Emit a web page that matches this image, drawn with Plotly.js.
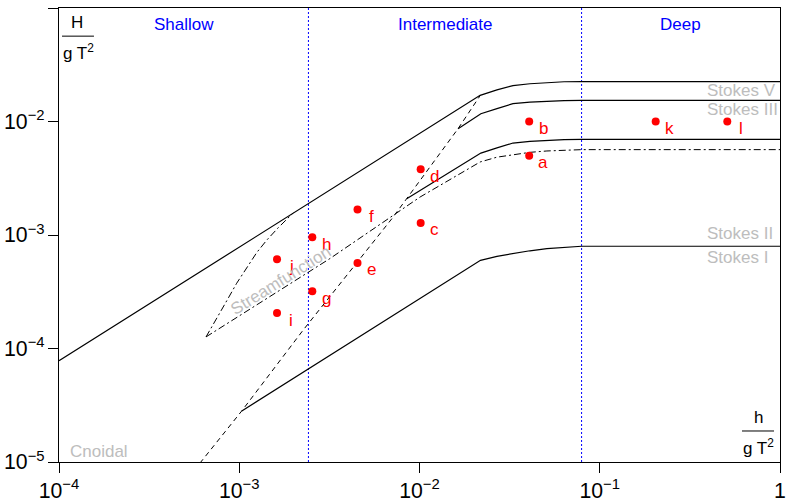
<!DOCTYPE html>
<html><head><meta charset="utf-8">
<script src="https://cdn.plot.ly/plotly-3.0.1.min.js"></script>
<style>html,body{margin:0;padding:0;background:#fff}#chart{width:795px;height:504px}</style>
</head><body><div id="chart"></div>
<script>
// Region limits (h/gT^2)
const regionBounds = [1e-4, 0.00242, 0.0793, 1];
const regionNames = ['Shallow', 'Intermediate', 'Deep'];

// Breaking limit
const breakX = [1e-4, 0.0217, 0.0269, 0.033, 0.041, 0.0509, 0.0634, 0.0793, 1];
const breakY = [7.8e-5, 0.0170, 0.0190, 0.0207, 0.0215, 0.0221, 0.0224, 0.0225, 0.0225];
// Stokes V / Stokes III boundary
const s53X = [0.01637, 0.0219, 0.0269, 0.033, 0.041, 0.0509, 0.0634, 0.0793, 1];
const s53Y = [0.00865, 0.0117, 0.0130, 0.01435, 0.01479, 0.01513, 0.0153, 0.01535, 0.01535];
// Stokes III / Stokes II boundary
const s32X = [0.00849, 0.0219, 0.0269, 0.033, 0.041, 0.0509, 0.0634, 0.0793, 1];
const s32Y = [0.00209, 0.00527, 0.00586, 0.00646, 0.00668, 0.00683, 0.00692, 0.00695, 0.00695];
// Stokes II / Stokes I boundary
const s21X = [0.001033, 0.0218, 0.0269, 0.033, 0.041, 0.0509, 0.0634, 0.0793, 1];
const s21Y = [2.82e-5, 5.98e-4, 6.49e-4, 6.9e-4, 7.26e-4, 7.59e-4, 7.82e-4, 7.96e-4, 7.96e-4];
// Ursell (cnoidal) limit
const ursellX = [6.05e-4, 1.033e-3, 2.26e-3, 3.62e-3, 7.02e-3, 8.49e-3, 0.01637, 0.0217];
const ursellY = [9.77e-6, 2.82e-5, 1.45e-4, 3.73e-4, 1.39e-3, 2.09e-3, 0.00865, 0.0169];
// Streamfunction region
const sfLowX = [6.54e-4, 3.18e-3, 0.01007, 0.0217, 0.0269, 0.033, 0.041, 0.0509, 0.0634, 0.0793, 1];
const sfLowY = [1.265e-4, 6.19e-4, 2.16e-3, 4.40e-3, 4.85e-3, 5.1e-3, 5.35e-3, 5.5e-3, 5.6e-3, 5.65e-3, 5.65e-3];
const sfUpX = [6.54e-4, 7.50e-4, 8.52e-4, 9.68e-4, 1.100e-3, 1.250e-3, 1.420e-3, 1.646e-3, 1.995e-3];
const sfUpY = [1.265e-4, 1.83e-4, 2.63e-4, 3.76e-4, 5.15e-4, 7.0e-4, 9.0e-4, 1.16e-3, 1.568e-3];

// Test cases
const ptLabels = ['a','b','c','d','e','f','g','h','i','j','k','l'];
const ptX = [0.0406, 0.0406, 0.01015, 0.01015, 4.53e-3, 4.53e-3, 2.543e-3, 2.543e-3, 1.62e-3, 1.62e-3, 0.2043, 0.510];
const ptY = [5.0e-3, 0.01, 1.276e-3, 3.79e-3, 5.67e-4, 1.675e-3, 3.19e-4, 9.55e-4, 2.05e-4, 6.11e-4, 0.01, 0.01];

const FONT = 'Liberation Sans, Arial, sans-serif';
const solid = {color:'#000', width:1.2};
const traces = [];
// Region separators
[regionBounds[1], regionBounds[2]].forEach(v => traces.push({
  x:[v, v], y:[1e-5, 1e-1], mode:'lines', line:{color:'#0000ff', width:1, dash:'2px,2px'}, hoverinfo:'skip'
}));
traces.push({x:breakX, y:breakY, mode:'lines', line:solid});
traces.push({x:s53X, y:s53Y, mode:'lines', line:solid});
traces.push({x:s32X, y:s32Y, mode:'lines', line:solid});
traces.push({x:s21X, y:s21Y, mode:'lines', line:solid});
traces.push({x:ursellX, y:ursellY, mode:'lines', line:{color:'#000', width:1, dash:'5px,4px'}});
traces.push({x:sfLowX, y:sfLowY, mode:'lines', line:{color:'#000', width:1, dash:'7px,3px,2px,3px'}});
traces.push({x:sfUpX, y:sfUpY, mode:'lines', line:{color:'#000', width:1, dash:'7px,3px,2px,3px'}});
traces.push({x:ptX, y:ptY, mode:'markers', marker:{color:'#ff0000', size:8}});

const annotations = [];
const gray = '#bdbdbd';
for (let i = 0; i < regionNames.length; i++) {
  annotations.push({xref:'x', yref:'paper', x:(Math.log10(regionBounds[i]) + Math.log10(regionBounds[i+1]))/2,
    y:0.9626, text:regionNames[i], showarrow:false, font:{family:FONT, size:17, color:'#0000ff'}, xanchor:'center', yanchor:'middle'});
}
ptLabels.forEach((t, i) => annotations.push({xref:'x', yref:'y', x:Math.log10(ptX[i]), y:Math.log10(ptY[i]), text:t,
  showarrow:false, xshift:14, yshift:-7, font:{family:FONT, size:17, color:'#ff0000'}, xanchor:'center', yanchor:'middle'}));
const grayLabels = [['Stokes V', 0.8179], ['Stokes III', 0.7769], ['Stokes II', 0.5033], ['Stokes I', 0.4504]];
grayLabels.forEach(g => annotations.push({xref:'paper', yref:'paper', x:0.8960, y:g[1], text:g[0], showarrow:false,
  xanchor:'left', yanchor:'middle', font:{family:FONT, size:17, color:gray}}));
annotations.push({xref:'paper', yref:'paper', x:0.0125, y:0.0242, text:'Cnoidal', showarrow:false,
  xanchor:'left', yanchor:'middle', font:{family:FONT, size:17, color:gray}});
annotations.push({xref:'paper', yref:'paper', x:0.3079, y:0.3987, text:'Streamfunction', showarrow:false, textangle:-32,
  xanchor:'center', yanchor:'middle', font:{family:FONT, size:17, color:gray}});
// axis titles as fractions
annotations.push({xref:'paper', yref:'paper', x:0.025, y:0.969, text:'H', showarrow:false, xanchor:'center', yanchor:'middle', font:{family:FONT, size:17, color:'#000'}});
annotations.push({xref:'paper', yref:'paper', x:0.0264, y:0.9035, text:'g T<sup>2</sup>', showarrow:false, xanchor:'center', yanchor:'middle', font:{family:FONT, size:17, color:'#000'}});
annotations.push({xref:'paper', yref:'paper', x:0.9695, y:0.0991, text:'h', showarrow:false, xanchor:'center', yanchor:'middle', font:{family:FONT, size:17, color:'#000'}});
annotations.push({xref:'paper', yref:'paper', x:0.9695, y:0.0322, text:'g T<sup>2</sup>', showarrow:false, xanchor:'center', yanchor:'middle', font:{family:FONT, size:17, color:'#000'}});

const shapes = [
  {type:'line', xref:'paper', yref:'paper', x0:0.0042, x1:0.0485, y0:0.938, y1:0.938, line:{color:'#000', width:1}},
  {type:'line', xref:'paper', yref:'paper', x0:0.9473, x1:0.9917, y0:0.0683, y1:0.0683, line:{color:'#000', width:1}}
];

const axisCommon = {type:'log', dtick:1, exponentformat:'power', showexponent:'all', showgrid:false, zeroline:false,
  showline:true, linecolor:'#000', linewidth:1, mirror:true, ticks:'outside', ticklen:10, tickcolor:'#000',
  tickfont:{family:FONT, size:17, color:'#000'}};
const layout = {
  width:795, height:504, margin:{l:59, r:15, t:8, b:42}, showlegend:false,
  paper_bgcolor:'#fff', plot_bgcolor:'#fff',
  xaxis:Object.assign({}, axisCommon, {range:[-4, 0]}),
  yaxis:Object.assign({}, axisCommon, {range:[-5, -1]}),
  annotations:annotations, shapes:shapes
};
Plotly.newPlot('chart', traces, layout, {staticPlot:true, displayModeBar:false});
</script></body></html>
